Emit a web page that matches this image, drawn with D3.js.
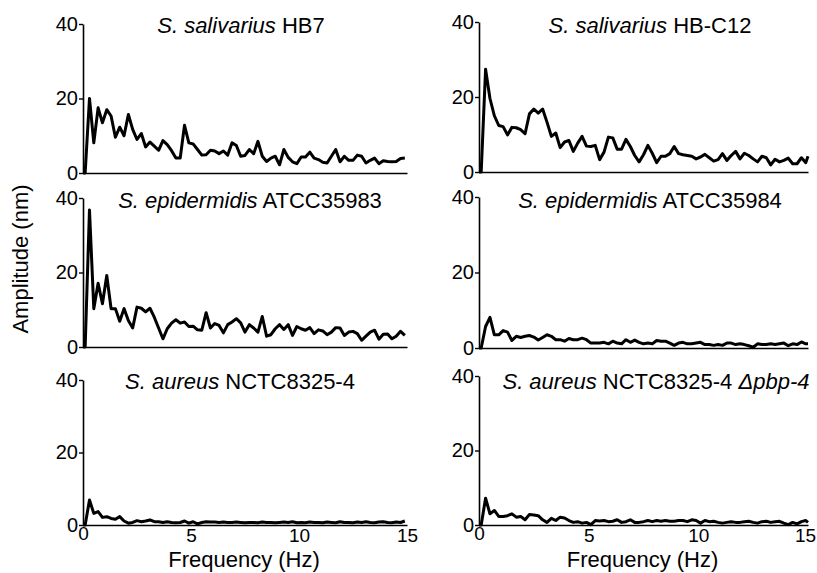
<!DOCTYPE html>
<html><head><meta charset="utf-8">
<script src="https://cdn.jsdelivr.net/npm/d3@7"></script>
<style>
body{margin:0;background:#fff;}
svg text{font-family:"Liberation Sans",Arial,sans-serif;fill:#000;}
</style></head>
<body><svg id="c" width="817" height="573"></svg>
<script>
// Frequency grid (Hz)
const freqs = [0,0.1,0.3,0.5,0.7,0.9,1.1,1.3,1.5,1.7,1.9,2.1,2.3,2.5,2.7,2.9,3.1,3.3,3.5,3.7,3.9,4.1,4.3,4.5,4.7,4.9,5.1,5.3,5.5,5.7,5.9,6.1,6.3,6.5,6.7,6.9,7.1,7.3,7.5,7.7,7.9,8.1,8.3,8.5,8.7,8.9,9.1,9.3,9.5,9.7,9.9,10.1,10.3,10.5,10.7,10.9,11.1,11.3,11.5,11.7,11.9,12.1,12.3,12.5,12.7,12.9,13.1,13.3,13.5,13.7,13.9,14.1,14.3,14.5,14.7,14.9,15.0];

// Amplitudes (nm)
const hb7 = [0,0,20,8.1,17.5,13.5,17,15.3,9.6,12.3,10,15.7,11.7,9,10.6,7,8.3,7.2,6.1,8.7,7.6,6,4,4,12.8,8.1,7.8,6.3,4.8,4.9,6.1,5.9,5.2,5.9,4.8,8.1,7.4,4.5,4.7,6.3,5.2,8.5,4.5,3.1,4,4.5,2.2,6.3,4.2,3,2.5,4.3,4.3,5.6,4,3.6,2.9,2.7,4.5,6.3,3,4.5,3.4,3.4,4.8,4.5,2.7,3.4,4,2.5,3.3,3.1,3,3.1,3.9,4];
const hbc12 = [0,0,27.4,19.6,15,12.4,12.1,9.9,11.9,11.8,11.3,10.2,15.5,16.8,15.7,16.8,13.3,9.5,10.4,6.5,8,8.4,5.5,7.7,9.5,6.9,6.8,7.1,3.3,5.3,9.3,9.1,6.1,6.1,8.7,6.8,4.4,2.7,4.6,7.1,5,2.5,4.2,4.2,4.9,6.8,4.9,4.6,4.4,4.2,3.5,4,4.7,3.8,2.9,3.3,4.9,3.1,4.4,5.5,3.5,5,4.4,3.5,2.7,4.2,3.8,1.9,3.4,2.7,3.1,3.7,2.2,2.2,3.8,2.5,4.2];
const atcc35983 = [0,0,36.8,10.3,17.1,11.6,19.2,10.3,10.3,6.9,10.3,7.1,5.1,10.7,10.4,9.4,10.4,8,5.1,2.2,4.9,6.4,7.3,6.4,6.7,5.5,5.6,4.6,4.5,9.2,5.1,6.3,5.8,3.8,6,6.7,7.6,6.5,4,6,5.1,4,8.2,2.9,3.3,4.9,6,4.7,6,3.1,5.5,4.9,4.5,5.2,3.6,4.6,4.3,3.3,4,5.2,5.1,3.1,4,4.2,3.6,1.8,2.9,4,4.5,2.1,3.4,3.5,2.2,2.9,4.2,3.1];
const atcc35984 = [0,0,5.7,8.1,3.5,3.5,4.6,4.2,2,3.1,2.8,3.1,3.3,2.9,2.1,2.8,3.5,3.1,2.2,2.2,1.8,2.5,2.2,2.2,2.6,2.2,1.3,1.3,1.3,1.5,1.1,1.8,1.3,1.1,2.2,1.5,2.1,1.5,1.1,1.3,1.1,2,1.8,1.8,1.3,0.7,1.3,1.5,1.1,1.1,1.3,1.5,0.9,0.9,0.7,0.9,0.7,1.3,1.3,0.9,1.1,0.9,0.6,0.2,1.1,0.9,0.9,1.1,0.9,1.1,1.3,0.6,1.1,0.9,1.6,1.1,1.1];
const nctc = [0,0,6.9,3.2,3.7,2.1,2.3,1.8,1.6,2.3,1.1,0.5,0.7,1.2,0.9,1.1,1.4,0.9,0.9,0.7,0.9,0.7,0.6,0.7,1.1,0.5,0.9,0.3,0.7,0.9,0.8,0.8,0.7,0.8,0.7,0.7,0.8,0.7,0.6,0.7,0.7,0.6,0.8,0.7,0.7,0.6,0.7,0.8,0.7,0.9,0.6,0.7,0.6,0.8,0.7,0.7,0.6,0.8,0.7,0.6,0.9,0.7,0.7,0.6,0.8,0.7,0.9,0.7,0.6,0.8,0.9,0.7,0.6,0.8,0.7,1.1];
const nctcPbp4 = [0,0,7.2,3,3.9,2.3,2.3,2.5,3,2.1,2.3,1.4,2.8,2.7,2.5,1.4,0.7,1.8,1.2,2.1,1.9,1.2,0.7,0.9,0.5,0.7,0.1,1.2,1.1,1.2,0.9,1,1.4,0.7,0.9,1.4,0.7,0.7,0.9,1.2,0.9,1.2,1,1.2,1,1,1.2,1.2,0.9,1.4,1.2,0.5,1.2,0.9,1,0.7,0.5,0.7,0.9,0.7,0.7,0.9,1,0.7,0.5,0.9,1,0.7,0.9,1,0.5,0.1,0.7,0.3,0.9,1.2,0.7];

const yTicks = [0,20,40];
const xTicks = [0,5,10,15];
const titles = [
  [["S. salivarius",true],[" HB7",false]],
  [["S. salivarius",true],[" HB-C12",false]],
  [["S. epidermidis",true],[" ATCC35983",false]],
  [["S. epidermidis",true],[" ATCC35984",false]],
  [["S. aureus",true],[" NCTC8325-4",false]],
  [["S. aureus",true],[" NCTC8325-4 ",false],["Δpbp-4",true]]
];
const series = [hb7, hbc12, atcc35983, atcc35984, nctc, nctcPbp4];
const xLabel = "Frequency (Hz)";
const yLabel = "Amplitude (nm)";

// layout (pixels)
const layout = [
  {x0:83,x1:407,yTop:24,yBot:173,tx:241,ty:33,bottom:false,lastDx:0},
  {x0:479,x1:808,yTop:22,yBot:172,tx:650,ty:33,bottom:false,lastDx:0},
  {x0:83,x1:407,yTop:198,yBot:347,tx:250,ty:208,bottom:false,lastDx:0},
  {x0:479,x1:808,yTop:197,yBot:348,tx:650,ty:208,bottom:false,lastDx:0},
  {x0:83,x1:407,yTop:380,yBot:525,tx:240,ty:389,bottom:true,lastDx:0},
  {x0:479,x1:808,yTop:376,yBot:525,tx:656,ty:389,bottom:true,lastDx:-3}
];

const svg = d3.select("#c");

series.forEach((vals, i) => {
  const L = layout[i];
  const x = d3.scaleLinear().domain([0,15]).range([L.x0, L.x1]);
  const y = d3.scaleLinear().domain([0,40]).range([L.yBot, L.yTop]);
  const g = svg.append("g");

  // y axis
  const ya = g.append("g").attr("transform", `translate(${L.x0},0)`)
    .call(d3.axisLeft(y).tickValues(yTicks).tickFormat(d3.format("d")).tickSize(4).tickSizeOuter(0).tickPadding(1));
  ya.selectAll("text").style("font-size","20px");

  // x axis
  const xa = g.append("g").attr("transform", `translate(0,${L.yBot})`)
    .call(d3.axisBottom(x).tickValues(L.bottom ? xTicks : []).tickSize(0).tickSizeOuter(0).tickPadding(4));
  xa.selectAll("text").style("font-size","19px");
  xa.selectAll(".tick").filter(d => d === 0).select("text").attr("y", 1);
  xa.selectAll(".tick").filter(d => d === 15).select("text").attr("x", L.lastDx);

  [ya, xa].forEach(a => {
    a.select(".domain").attr("stroke","#000").attr("stroke-width",1.6);
    a.selectAll(".tick line").attr("stroke","#000").attr("stroke-width",1.4);
  });

  // data line
  const line = d3.line().x((d, j) => x(freqs[j])).y(d => y(d));
  g.append("path").datum(vals)
    .attr("d", line)
    .attr("fill","none").attr("stroke","#000")
    .attr("stroke-width",3).attr("stroke-linejoin","round");

  // title
  const t = g.append("text").attr("x", L.tx).attr("y", L.ty)
    .attr("text-anchor","middle").style("font-size","22px");
  titles[i].forEach(([s, it]) => {
    t.append("tspan").text(s).style("font-style", it ? "italic" : "normal");
  });

  if (L.bottom) {
    g.append("text").attr("x", (L.x0 + L.x1) / 2 - 1).attr("y", 567)
      .attr("text-anchor","middle").style("font-size","22px").text(xLabel);
  }
});

svg.append("text")
  .attr("transform","translate(28,259) rotate(-90)")
  .attr("text-anchor","middle").style("font-size","22px").text(yLabel);
</script></body></html>
